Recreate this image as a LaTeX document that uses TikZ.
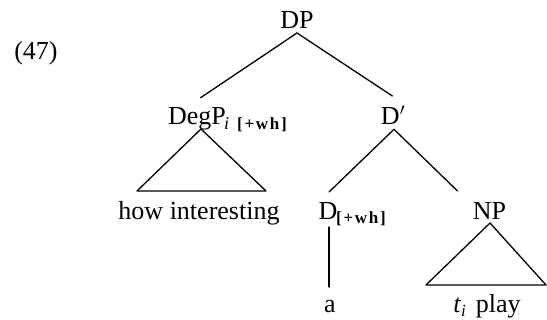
\documentclass[tikz,border=0pt]{standalone}
\usepackage{fontspec}
\setmainfont{Liberation Serif}
\newfontfamily\featfont[LetterSpace=10]{Liberation Serif}
\usetikzlibrary{calc}
\begin{document}
\begin{tikzpicture}[x=1pt,y=-1pt,
  lab/.style={anchor=base,inner sep=0pt,font=\fontsize{26}{30}\selectfont},
  feat/.style={anchor=base west,inner sep=0pt,font=\featfont\bfseries\fontsize{17}{20}\selectfont},
  sub/.style={anchor=base west,inner sep=0pt,font=\itshape\fontsize{18}{20}\selectfont},
  edge/.style={line width=1.3pt,line cap=round,line join=round}]
\useasboundingbox (0,0) rectangle (547,320);
\node[lab] (ex) at (36,60) {(47)};
\node[lab] (dp) at (297,29) {DP};
\node[lab] (degp) at (197,125) {DegP};
\node[sub] (degpi) at (224,130) {i};
\node[feat] (degpf) at (237,130) {[+wh]};
\node[lab] (dbar) at (393,125) {D$'$};
\node[lab] (hi) at (199,220) {how interesting};
\node[lab] (d) at (328,220) {D};
\node[feat] (df) at (336,224) {[+wh]};
\node[lab] (np) at (489.5,220) {NP};
\node[lab] (a) at (330,313) {a};
\node[lab] (tp) at (487,313) {\textit{t}\raisebox{-4pt}{\fontsize{17}{18}\selectfont\itshape i}\hspace{10pt}play};
% edges
\draw[edge] ($(dp.base)+(0,4)$) -- ($(degp.base)+(3.6,-27.3)$);
\draw[edge] ($(dp.base)+(0,4)$) -- ($(dbar.base)+(-0.6,-29)$);
\draw[edge] ($(degp.base)+(4,4)$) -- ($(hi.base)+(-62,-29)$) -- ($(hi.base)+(67,-29)$) -- cycle;
\draw[edge] ($(dbar.base)+(1,4.3)$) -- ($(d.base)+(1,-28)$);
\draw[edge] ($(dbar.base)+(1,4.3)$) -- ($(np.base)+(-32,-29)$);
\draw[edge] ($(d.base)+(1,7)$) -- ($(a.base)+(-1,-26)$);
\draw[edge] ($(np.base)+(0.5,3)$) -- ($(tp.base)+(-61,-28)$) -- ($(tp.base)+(59,-28)$) -- cycle;
\end{tikzpicture}
\end{document}
